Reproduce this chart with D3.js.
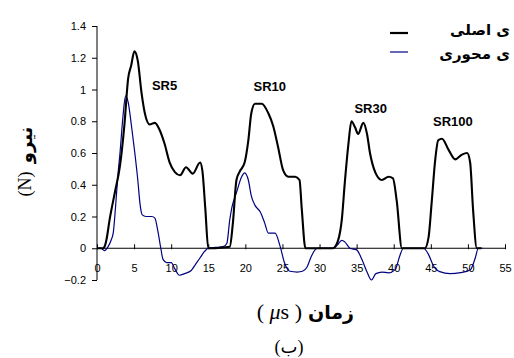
<!DOCTYPE html>
<html>
<head>
<meta charset="utf-8">
<title>SR force curves</title>
<script src="https://cdn.jsdelivr.net/npm/d3@7"></script>
<style>
  body { margin: 0; background: #fff; }
  svg { display: block; }
</style>
</head>
<body>
<script>

// main force (black) and axial force (blue), time in microseconds
var mainTime = [0, 0.8, 1.1, 1.3, 1.7, 2.4, 3.1, 3.7, 4.2, 4.6, 5.05, 5.5, 6.0, 6.45, 7.1, 7.8, 8.4, 9.1, 9.8, 10.5, 11.2, 12.0, 12.9, 13.9, 14.2, 14.6, 15.0,
  16, 17, 17.9, 18.3, 18.8, 19.2, 19.9, 20.4, 20.8, 21.3, 22.2, 23.1, 23.75, 24.4, 25.1, 25.8, 26.7, 27.3, 27.6, 28.1,
  31.8, 32.5, 33.0, 33.4, 33.9, 34.3, 34.8, 35.2, 35.9, 36.4, 36.8, 37.5, 38.4, 39.3, 39.9, 40.4, 41.1,
  44.2, 44.7, 45.1, 45.6, 46.0, 46.5, 47.4, 48.3, 49.2, 49.9, 50.3, 50.7, 51.2, 51.8];
var mainForce = [0, 0, 0.02, 0.06, 0.18, 0.35, 0.52, 0.78, 1.07, 1.15, 1.24, 1.18, 0.98, 0.85, 0.78, 0.79, 0.75, 0.66, 0.54, 0.48, 0.46, 0.51, 0.47, 0.54, 0.49, 0.25, 0,
  0, 0.005, 0.01, 0.15, 0.43, 0.48, 0.54, 0.68, 0.85, 0.91, 0.91, 0.85, 0.77, 0.64, 0.49, 0.45, 0.45, 0.43, 0.25, 0,
  0, 0.05, 0.18, 0.41, 0.66, 0.80, 0.76, 0.72, 0.79, 0.72, 0.60, 0.48, 0.43, 0.45, 0.44, 0.30, 0,
  0, 0.07, 0.28, 0.56, 0.68, 0.69, 0.62, 0.56, 0.59, 0.60, 0.54, 0.24, 0, 0];

var axialTime = [0, 0.5, 1.0, 1.5, 1.9, 2.2, 2.5, 2.8, 3.1, 3.5, 3.85, 4.2, 4.65, 5.1, 5.5, 5.8, 6.1, 6.6, 7.4, 7.8, 8.2, 8.6, 8.9, 9.4, 10.0, 10.5, 11.1, 11.8, 12.7, 13.3, 13.9, 14.5, 15.0,
  16.0, 17.0, 17.5, 17.9, 18.2, 18.8, 19.5, 19.9, 20.4, 20.8, 21.3, 22.0, 22.6, 23.1, 24.0, 24.7, 25.3, 26.0, 27.0, 27.7, 28.3, 28.9, 29.4, 29.8,
  31.8, 32.4, 33.0, 33.4, 34.1, 35.0, 35.7, 36.4, 37.0, 37.6, 38.4, 39.3, 40.2, 40.8, 41.3,
  44.0, 44.7, 45.3, 46.2, 47.6, 49.0, 50.3, 51.0, 51.4, 52];
var axialForce = [0, 0, -0.015, 0.01, 0.05, 0.1, 0.26, 0.45, 0.6, 0.83, 0.96, 0.92, 0.77, 0.6, 0.43, 0.28, 0.21, 0.2, 0.2, 0.19, 0.11, 0.0, -0.07, -0.09, -0.09, -0.13, -0.17, -0.16, -0.14, -0.1, -0.06, -0.02, 0,
  0.005, 0.01, 0.03, 0.18, 0.26, 0.35, 0.45, 0.475, 0.43, 0.33, 0.27, 0.23, 0.16, 0.095, 0.095, 0.01, -0.095, -0.145, -0.15, -0.145, -0.12, -0.05, -0.01, 0,
  0, 0.02, 0.05, 0.04, 0.0, -0.01, -0.07, -0.15, -0.2, -0.16, -0.15, -0.155, -0.135, -0.05, 0,
  0, -0.04, -0.105, -0.147, -0.16, -0.154, -0.137, -0.06, 0, 0];

var xTicks = [0, 5, 10, 15, 20, 25, 30, 35, 40, 45, 50, 55];
var yTicks = [-0.2, 0, 0.2, 0.4, 0.6, 0.8, 1, 1.2, 1.4];

// peak labels
var srNames = ["SR5", "SR10", "SR30", "SR100"];
var srTime = [7.4, 21.1, 34.7, 45.3];
var srForce = [1.0, 0.99, 0.85, 0.77];

// the legend only shows the ends of its labels in the original
var legendNames = ["ی اصلی", "ی محوری"];

var w = 514, h = 358;

var svg = d3.select("body").append("svg")
  .attr("width", w)
  .attr("height", h);

var x = d3.scaleLinear().domain([0, 55]).range([97, 505]);
var y = d3.scaleLinear().domain([-0.2, 1.4]).range([280, 26]);

// y axis
var yAxis = svg.append("g")
  .attr("transform", "translate(97,0)")
  .call(d3.axisLeft(y).tickValues(yTicks).tickSize(5).tickPadding(6)
    .tickFormat(function(d) { return d3.format("")(+d.toFixed(1)); }));
yAxis.select(".domain").attr("d", "M0," + y(-0.2) + "V" + y(1.4));
yAxis.selectAll("text").attr("font-family", "Liberation Sans, Arial, sans-serif").attr("font-size", "11px");

// x axis sits at y = 0
var xAxis = svg.append("g")
  .attr("transform", "translate(0," + y(0) + ")")
  .call(d3.axisBottom(x).tickValues(xTicks).tickSize(4).tickPadding(12));
xAxis.select(".domain").attr("d", "M" + x(0) + ",0H" + x(55));
xAxis.selectAll(".tick line").attr("y1", -4).attr("y2", 1);
xAxis.selectAll("text").attr("font-family", "Liberation Sans, Arial, sans-serif").attr("font-size", "11px");

svg.selectAll(".domain, .tick line").attr("stroke", "#000");

var line = d3.line()
  .x(function(d) { return x(d[0]); })
  .y(function(d) { return y(d[1]); })
  .curve(d3.curveMonotoneX);

var axialData = d3.zip(axialTime, axialForce);
var mainData = d3.zip(mainTime, mainForce);

svg.append("path")
  .datum(axialData)
  .attr("d", line)
  .attr("fill", "none")
  .attr("stroke", "#000080")
  .attr("stroke-width", 1.2);

svg.append("path")
  .datum(mainData)
  .attr("d", line)
  .attr("fill", "none")
  .attr("stroke", "#000")
  .attr("stroke-width", 2.1);

// SR labels
svg.selectAll(".sr")
  .data(srNames)
  .enter()
  .append("text")
  .attr("class", "sr")
  .attr("x", function(d, i) { return x(srTime[i]); })
  .attr("y", function(d, i) { return y(srForce[i]); })
  .attr("font-family", "Liberation Sans, Arial, sans-serif")
  .attr("font-weight", "bold")
  .attr("font-size", "13px")
  .text(function(d) { return d; });

// legend
var legendY = [33, 52];
var legendTextY = [35, 59];
var legendColor = ["#000", "#000080"];
var legendWidth = [2.2, 1.2];

legendNames.forEach(function(name, i) {
  svg.append("line")
    .attr("x1", 390).attr("x2", 408)
    .attr("y1", legendY[i]).attr("y2", legendY[i])
    .attr("stroke", legendColor[i])
    .attr("stroke-width", legendWidth[i]);
  svg.append("text")
    .attr("x", 510)
    .attr("y", legendTextY[i])
    .attr("direction", "rtl")
    .attr("text-anchor", "start")
    .attr("font-family", "DejaVu Sans, sans-serif")
    .attr("font-weight", "bold")
    .attr("font-size", "15px")
    .text(name);
});

// y label
svg.append("text")
  .attr("transform", "translate(32,145) rotate(-90)")
  .attr("text-anchor", "middle")
  .attr("font-family", "DejaVu Sans, sans-serif")
  .attr("font-weight", "bold")
  .attr("font-size", "18px")
  .text("نیرو");
svg.append("text")
  .attr("transform", "translate(31,184) rotate(-90)")
  .attr("text-anchor", "middle")
  .attr("font-family", "Liberation Serif, Times New Roman, serif")
  .attr("font-size", "18px")
  .text("(N)");

// x label
svg.append("text")
  .attr("x", 308)
  .attr("y", 319)
  .attr("direction", "rtl")
  .attr("text-anchor", "end")
  .attr("font-family", "DejaVu Sans, sans-serif")
  .attr("font-weight", "bold")
  .attr("font-size", "19px")
  .text("زمان");
var unit = svg.append("text")
  .attr("x", 302)
  .attr("y", 319)
  .attr("text-anchor", "end")
  .attr("font-family", "Liberation Serif, Times New Roman, serif")
  .attr("font-size", "22px");
unit.append("tspan").text("( ");
unit.append("tspan").attr("font-style", "italic").text("μ");
unit.append("tspan").text("s )");

svg.append("text")
  .attr("x", 289)
  .attr("y", 353)
  .attr("text-anchor", "middle")
  .attr("font-family", "Liberation Serif, DejaVu Sans, serif")
  .attr("font-size", "18px")
  .text("(ب)");

</script>
</body>
</html>
